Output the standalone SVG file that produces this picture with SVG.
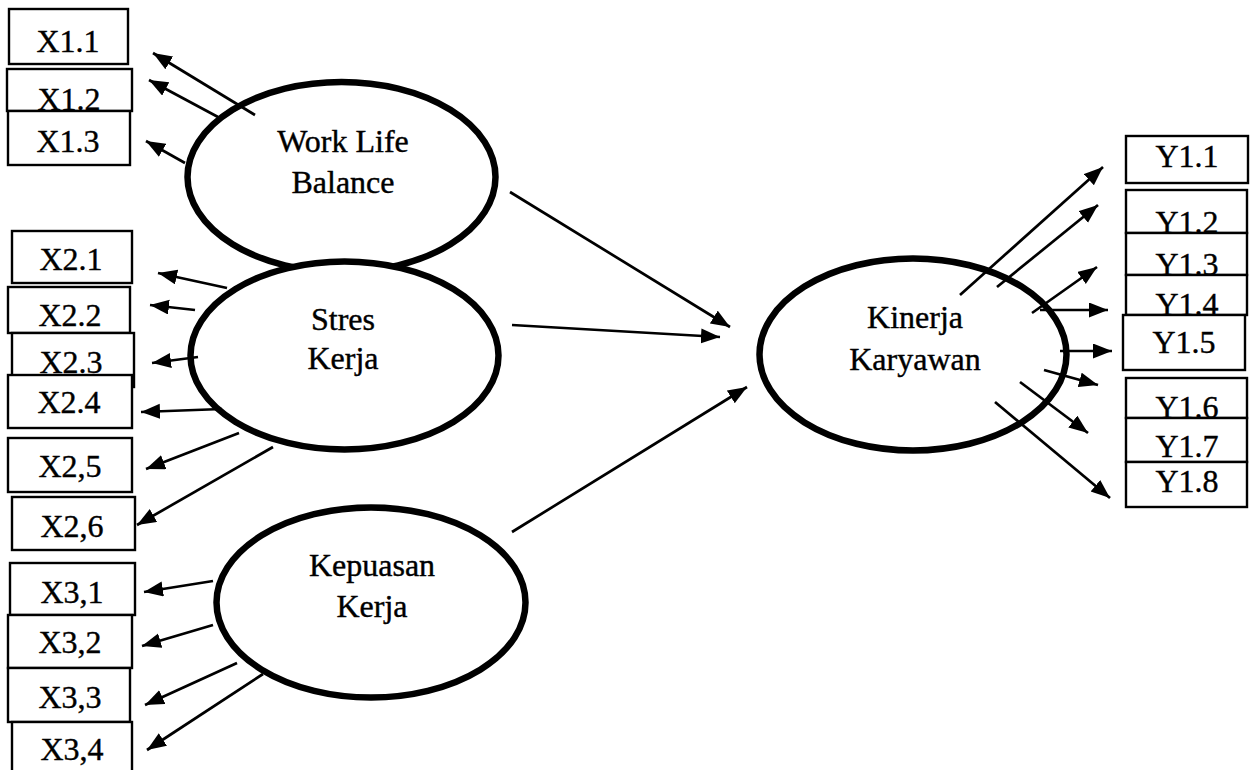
<svg xmlns="http://www.w3.org/2000/svg" width="1257" height="770" viewBox="0 0 1257 770">
<style>
.bg{fill:#fff}
.box{fill:#fff;stroke:#000;stroke-width:2.4}
.ell{fill:#fff;stroke:#000;stroke-width:6.5}
.t{font-family:"Liberation Serif","Times New Roman",serif;font-size:32px;fill:#000;stroke:#000;stroke-width:0.4;text-anchor:middle}
.c line{stroke:#000;stroke-width:2.7;marker-end:url(#ah)}
</style>
<defs>
<marker id="ah" markerUnits="userSpaceOnUse" markerWidth="22" markerHeight="16" refX="19" refY="7.5" orient="auto">
<path d="M0,0 L19,7.5 L0,15 z" fill="#000"/>
</marker>
</defs>
<rect class="bg" width="1257" height="770"/>

<g id="latents">
<g id="wlb"><ellipse class="ell" cx="341.5" cy="177" rx="154" ry="95"/>
<text class="t" x="343" y="152">Work Life</text><text class="t" x="343" y="193">Balance</text></g>
<g id="stres"><ellipse class="ell" cx="344.5" cy="355.5" rx="154" ry="94"/>
<text class="t" x="343" y="330">Stres</text><text class="t" x="343" y="369">Kerja</text></g>
<g id="kepuasan"><ellipse class="ell" cx="371" cy="602.5" rx="154.5" ry="95"/>
<text class="t" x="372" y="576">Kepuasan</text><text class="t" x="372" y="617">Kerja</text></g>
<g id="kinerja"><ellipse class="ell" cx="913" cy="354.5" rx="153.5" ry="96"/>
<text class="t" x="915" y="328">Kinerja</text><text class="t" x="915" y="370">Karyawan</text></g>
</g>

<g id="indicators">
<g id="x11"><rect class="box" x="9" y="9" width="119" height="55"/><text class="t" x="68" y="52">X1.1</text></g>
<g id="x12"><rect class="box" x="7" y="69" width="125" height="42"/><text class="t" x="69" y="110">X1.2</text></g>
<g id="x13"><rect class="box" x="8" y="111" width="122" height="54"/><text class="t" x="68" y="152">X1.3</text></g>

<g id="x21"><rect class="box" x="12" y="231" width="120" height="52"/><text class="t" x="71" y="270">X2.1</text></g>
<g id="x22"><rect class="box" x="8" y="287" width="122" height="46"/><text class="t" x="70" y="326">X2.2</text></g>
<g id="x23"><rect class="box" x="12" y="333" width="122" height="54"/><text class="t" x="71" y="373">X2.3</text></g>
<g id="x24"><rect class="box" x="8" y="375" width="124" height="53"/><text class="t" x="69" y="413">X2.4</text></g>
<g id="x25"><rect class="box" x="8" y="438" width="124" height="54"/><text class="t" x="70" y="477">X2,5</text></g>
<g id="x26"><rect class="box" x="12" y="497" width="123" height="53"/><text class="t" x="72" y="537">X2,6</text></g>

<g id="x31"><rect class="box" x="10" y="563" width="125" height="52"/><text class="t" x="72" y="603">X3,1</text></g>
<g id="x32"><rect class="box" x="8" y="615" width="124" height="53"/><text class="t" x="70" y="653">X3,2</text></g>
<g id="x33"><rect class="box" x="8" y="668" width="122" height="54"/><text class="t" x="70" y="708">X3,3</text></g>
<g id="x34"><rect class="box" x="12" y="722" width="120" height="60"/><text class="t" x="72" y="760">X3,4</text></g>

<g id="y11"><rect class="box" x="1126" y="136" width="122" height="47"/><text class="t" x="1187" y="167">Y1.1</text></g>
<g id="y12"><rect class="box" x="1126" y="190" width="121" height="43"/><text class="t" x="1187" y="233">Y1.2</text></g>
<g id="y13"><rect class="box" x="1126" y="233" width="121" height="42"/><text class="t" x="1187" y="275">Y1.3</text></g>
<g id="y14"><rect class="box" x="1126" y="275" width="121" height="40"/><text class="t" x="1187" y="315">Y1.4</text></g>
<g id="y15"><rect class="box" x="1123" y="315" width="122" height="55"/><text class="t" x="1184" y="353">Y1.5</text></g>
<g id="y16"><rect class="box" x="1126" y="378" width="121" height="40"/><text class="t" x="1187" y="418">Y1.6</text></g>
<g id="y17"><rect class="box" x="1126" y="418" width="121" height="44"/><text class="t" x="1187" y="457">Y1.7</text></g>
<g id="y18"><rect class="box" x="1126" y="462" width="121" height="45"/><text class="t" x="1187" y="492">Y1.8</text></g>
</g>

<g id="connectors" class="c">
<line x1="255" y1="115" x2="153" y2="53"/>
<line x1="218" y1="117" x2="149" y2="80"/>
<line x1="185" y1="163" x2="146" y2="141"/>

<line x1="227" y1="288" x2="158" y2="273"/>
<line x1="195" y1="310" x2="150" y2="305"/>
<line x1="198" y1="357" x2="152" y2="363"/>
<line x1="222" y1="409" x2="141" y2="412"/>
<line x1="239" y1="433" x2="146" y2="469"/>
<line x1="273" y1="447" x2="137" y2="525"/>

<line x1="213" y1="581" x2="144" y2="592"/>
<line x1="213" y1="625" x2="142" y2="646"/>
<line x1="237" y1="663" x2="145" y2="705"/>
<line x1="263" y1="674" x2="147" y2="750"/>

<line x1="510" y1="192" x2="730" y2="327"/>
<line x1="512" y1="325" x2="720" y2="337"/>
<line x1="512" y1="532" x2="747" y2="387"/>

<line x1="960" y1="295" x2="1103" y2="167"/>
<line x1="997" y1="287" x2="1098" y2="205"/>
<line x1="1032" y1="313" x2="1097" y2="267"/>
<line x1="1040" y1="310" x2="1108" y2="310"/>
<line x1="1060" y1="351" x2="1112" y2="351"/>
<line x1="1044" y1="370" x2="1098" y2="385"/>
<line x1="1020" y1="382" x2="1088" y2="433"/>
<line x1="995" y1="402" x2="1110" y2="498"/>
</g>
</svg>
